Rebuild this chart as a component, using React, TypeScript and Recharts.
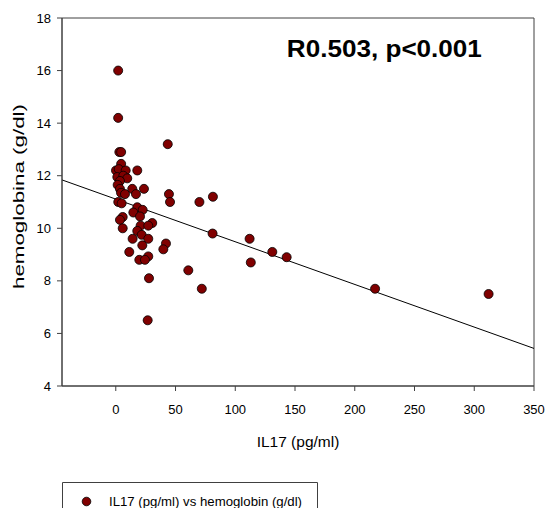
import React from 'react';
import {
  ScatterChart, Scatter, XAxis, YAxis, ZAxis, ReferenceLine, ReferenceArea, Legend,
} from 'recharts';

// IL17 (pg/ml) values
const il17 = [
  2, 2, 3, 4.5, 43.5, 4.5, 0.2, 2.5, 8.3, 18,
  1.3, 6.3, 9.6, 3.5, 1.6, 13.8, 23.6, 3.5, 16.9, 4.4,
  7.7, 44.5, 45.4, 70, 81.3, 2.1, 4.9, 18, 22.5, 14.7,
  20.3, 5.8, 3.5, 30.5, 5.8, 20.8, 27.2, 18, 21.7, 27.2,
  14.1, 22.2, 42, 39.8, 11.3, 27.2, 19.7, 24.4, 60.7, 27.8,
  72, 26.7, 81, 112, 131, 143, 113, 217, 312,
];
// hemoglobin (g/dl) values
const hemoglobin = [
  16.0, 14.2, 12.9, 12.9, 13.2, 12.45, 12.2, 12.25, 12.2, 12.2,
  11.95, 12.0, 11.9, 11.8, 11.65, 11.5, 11.5, 11.5, 11.3, 11.35,
  11.3, 11.3, 11.0, 11.0, 11.2, 11.0, 10.95, 10.8, 10.7, 10.6,
  10.45, 10.43, 10.32, 10.2, 10.0, 10.1, 10.1, 9.9, 9.75, 9.6,
  9.6, 9.35, 9.42, 9.2, 9.1, 8.93, 8.8, 8.8, 8.4, 8.1,
  7.7, 6.5, 9.8, 9.6, 9.1, 8.9, 8.7, 7.7, 7.5,
];

const xTicks = [0, 50, 100, 150, 200, 250, 300, 350];
const yTicks = [4, 6, 8, 10, 12, 14, 16, 18];
const xDomain = [-45, 350];
const yDomain = [4, 18];

// regression line
const regIntercept = 11.11;
const regSlope = -0.01623;

const seriesName = 'IL17 (pg/ml) vs hemoglobin (g/dl)';
const titleText = 'R0.503, p<0.001';
const xLabel = 'IL17 (pg/ml)';
const yLabel = 'hemoglobina (g/dl)';

const data = il17.map((x, i) => ({ x, y: hemoglobin[i] }));
const regSegment = xDomain.map((x) => ({ x, y: regIntercept + regSlope * x }));

const FONT = '"Liberation Sans", Arial, sans-serif';
const AXIS = '#404040';

const LegendBox = () => (
  <svg width={256} height={26} style={{ display: 'block' }}>
    <path d="M0.5,26 V0.5 H255.5 V26" fill="#fff" stroke={AXIS} strokeWidth={1} />
    <circle cx={24.5} cy={19.5} r={4.3} fill="#800000" stroke="#000" strokeWidth={0.8} />
    <text
      x={47}
      y={24}
      fontSize={13}
      fontFamily={FONT}
      fill="#000"
      textLength={193}
      lengthAdjust="spacingAndGlyphs"
    >
      {seriesName}
    </text>
  </svg>
);

export default function App() {
  return (
    <div style={{ position: 'absolute', left: 0, top: 0, background: '#fff' }}>
      <ScatterChart
        width={547}
        height={508}
        margin={{ top: 18, right: 13, bottom: 52, left: 12 }}
        style={{ fontFamily: FONT }}
      >
        <XAxis
          type="number"
          dataKey="x"
          domain={xDomain}
          ticks={xTicks}
          allowDataOverflow
          height={70}
          tickSize={5}
          tickMargin={13.5}
          stroke={AXIS}
          tick={{ fill: '#000', fontSize: 13, fontFamily: FONT }}
          label={{
            content: (p: any) => {
              const vb = p.viewBox;
              return (
                <text
                  x={vb.x + vb.width / 2}
                  y={vb.y + 61}
                  textAnchor="middle"
                  fontSize={15.5}
                  fontFamily={FONT}
                  fill="#000"
                >
                  {xLabel}
                </text>
              );
            },
          }}
        />
        <YAxis
          type="number"
          dataKey="y"
          domain={yDomain}
          ticks={yTicks}
          allowDataOverflow
          width={50}
          tickSize={5}
          tickMargin={6}
          stroke={AXIS}
          tick={{ fill: '#000', fontSize: 13, fontFamily: FONT }}
          label={{
            content: () => (
              <text
                x={23.5}
                y={196.5}
                textAnchor="middle"
                fontSize={15.5}
                fontFamily={FONT}
                fill="#000"
                textLength={185}
                lengthAdjust="spacingAndGlyphs"
                transform="rotate(-90, 23.5, 196.5)"
              >
                {yLabel}
              </text>
            ),
          }}
        />
        <ZAxis range={[58, 58]} />
        <ReferenceArea
          x1={xDomain[0]}
          x2={xDomain[1]}
          y1={yDomain[0]}
          y2={yDomain[1]}
          fill="none"
          fillOpacity={0}
          stroke={AXIS}
          strokeWidth={1}
          label={{
            content: (p: any) => {
              const vb = p.viewBox;
              return (
                <text
                  x={vb.x + vb.width * 0.683}
                  y={vb.y + 39.3}
                  textAnchor="middle"
                  fontSize={24}
                  fontWeight="bold"
                  fontFamily={FONT}
                  fill="#000"
                  textLength={195}
                  lengthAdjust="spacingAndGlyphs"
                >
                  {titleText}
                </text>
              );
            },
          }}
        />
        <ReferenceLine segment={regSegment} stroke="#000" strokeWidth={1} />
        <Scatter
          name={seriesName}
          data={data}
          fill="#800000"
          stroke="#000"
          strokeWidth={0.8}
          isAnimationActive={false}
        />
        <Legend
          layout="horizontal"
          verticalAlign="middle"
          align="center"
          content={() => <LegendBox />}
          wrapperStyle={{ left: 62, top: 482, width: 'auto', height: 'auto' }}
        />
      </ScatterChart>
    </div>
  );
}
